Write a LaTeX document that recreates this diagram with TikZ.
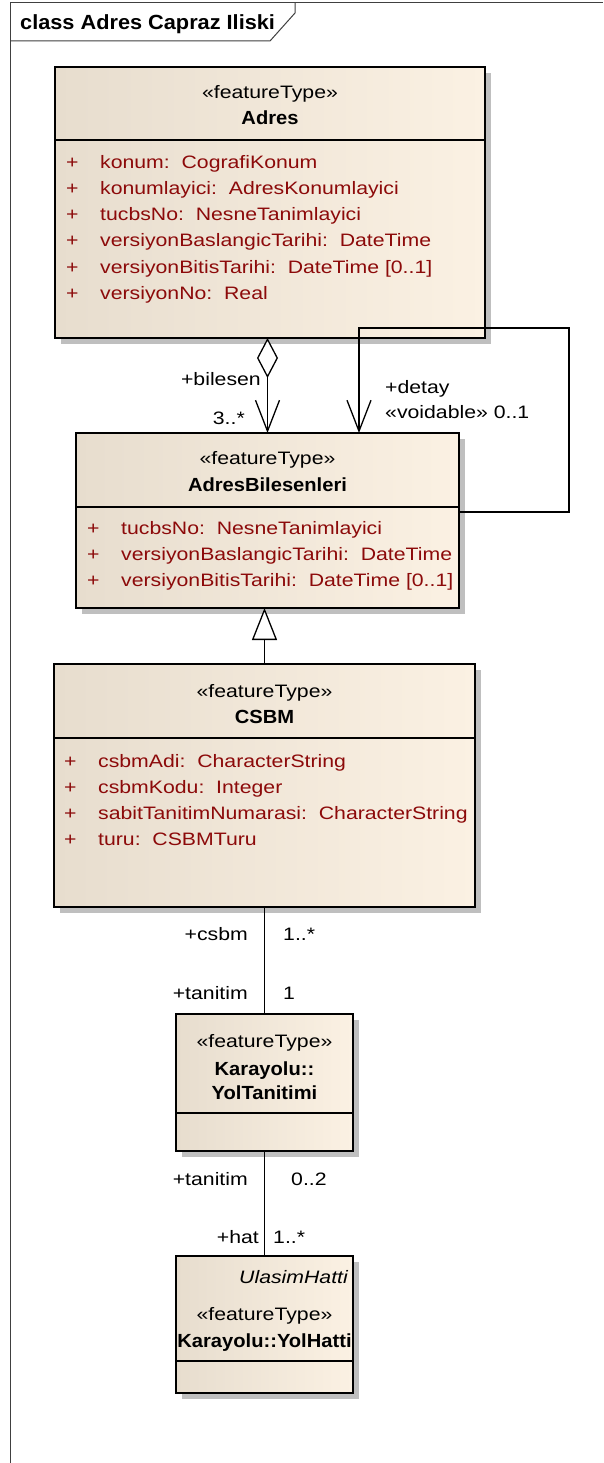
\documentclass[tikz,border=0pt]{standalone}
\usepackage{fontspec}
\setmainfont{Liberation Sans}
\newfontfamily\widefont{Liberation Sans}[FakeStretch=1.18]
\newfontfamily\namefont{Liberation Sans}[FakeStretch=1.06]
\usetikzlibrary{arrows.meta, shadows}
\definecolor{boxleft}{RGB}{231,221,206}
\definecolor{boxright}{RGB}{251,241,227}
\definecolor{attrred}{RGB}{140,10,10}
\newcommand{\plusmark}{\makebox[34pt][l]{+}}

\begin{document}
\begin{tikzpicture}[x=1pt, y=-1pt,
	classbox/.style={rectangle, draw=black, line width=1.4pt, left color=boxleft, right color=boxright, inner sep=0pt, outer sep=0pt, anchor=north west, drop shadow={shadow xshift=6pt, shadow yshift=-6pt, fill=black!25, opacity=1}},
	stereo/.style={font=\widefont\fontsize{18}{22}\selectfont, inner sep=0pt, anchor=base},
	classname/.style={font=\namefont\bfseries\fontsize{19}{23}\selectfont, inner sep=0pt, anchor=base},
	attr/.style={font=\widefont\fontsize{18}{26}\selectfont, text=attrred, inner sep=0pt, anchor=base west},
	role/.style={font=\widefont\fontsize{18}{22}\selectfont, inner sep=0pt},
	sep/.style={line width=1.4pt},
	conn/.style={line width=1.3pt},
	frame/.style={line width=1pt, draw=black!75}]
	\path[fill=white, use as bounding box] (0,0) rectangle (603,1463);
	% frame
	\draw[frame] (10,1463) -- (10,3) -- (603,3);
	\draw[frame] (10,41) -- (270,41) -- (295,13) -- (295,3);
	\node[font=\namefont\bfseries\fontsize{20.5}{24}\selectfont, inner sep=0pt, anchor=base west] (title) at (20,30) {class Adres Capraz Iliski};
	% Adres
	\node[classbox, minimum width=430pt, minimum height=271pt] (adres) at (55,67) {};
	\draw[sep] (adres.west |- 0,140) -- (adres.east |- 0,140);
	\node[stereo] (adresst) at (270,99) {«featureType»};
	\node[classname] (adresnm) at (270,125) {Adres};
	\node[attr] (adresa1) at (66,169) {\plusmark konum:~~CografiKonum};
	\node[attr] (adresa2) at (66,195) {\plusmark konumlayici:~~AdresKonumlayici};
	\node[attr] (adresa3) at (66,221) {\plusmark tucbsNo:~~NesneTanimlayici};
	\node[attr] (adresa4) at (66,247) {\plusmark versiyonBaslangicTarihi:~~DateTime};
	\node[attr] (adresa5) at (66,273) {\plusmark versiyonBitisTarihi:~~DateTime [0..1]};
	\node[attr] (adresa6) at (66,299) {\plusmark versiyonNo:~~Real};
	% AdresBilesenleri
	\node[classbox, minimum width=383pt, minimum height=175pt] (bilesen) at (76,433) {};
	\draw[sep] (bilesen.west |- 0,507) -- (bilesen.east |- 0,507);
	\node[stereo] (bilesenst) at (267.5,464) {«featureType»};
	\node[classname] (bilesennm) at (267.5,491) {AdresBilesenleri};
	\node[attr] (bilesena1) at (87,534) {\plusmark tucbsNo:~~NesneTanimlayici};
	\node[attr] (bilesena2) at (87,560) {\plusmark versiyonBaslangicTarihi:~~DateTime};
	\node[attr] (bilesena3) at (87,586) {\plusmark versiyonBitisTarihi:~~DateTime [0..1]};
	% CSBM
	\node[classbox, minimum width=421pt, minimum height=243pt] (csbm) at (54,664) {};
	\draw[sep] (csbm.west |- 0,738) -- (csbm.east |- 0,738);
	\node[stereo] (csbmst) at (264.5,697) {«featureType»};
	\node[classname] (csbmnm) at (264.5,723) {CSBM};
	\node[attr] (csbma1) at (64,767) {\plusmark csbmAdi:~~CharacterString};
	\node[attr] (csbma2) at (64,793) {\plusmark csbmKodu:~~Integer};
	\node[attr] (csbma3) at (64,819) {\plusmark sabitTanitimNumarasi:~~CharacterString};
	\node[attr] (csbma4) at (64,845) {\plusmark turu:~~CSBMTuru};
	% Karayolu::YolTanitimi
	\node[classbox, minimum width=177pt, minimum height=137pt] (yoltan) at (176,1014) {};
	\draw[sep] (yoltan.west |- 0,1113) -- (yoltan.east |- 0,1113);
	\node[stereo] (yoltanst) at (264.5,1047) {«featureType»};
	\node[classname] (yoltannm1) at (264.5,1075) {Karayolu::};
	\node[classname] (yoltannm2) at (264.5,1099) {YolTanitimi};
	% Karayolu::YolHatti
	\node[classbox, minimum width=177pt, minimum height=137pt] (yolhat) at (176,1256) {};
	\draw[sep] (yolhat.west |- 0,1361) -- (yolhat.east |- 0,1361);
	\node[stereo, anchor=base east, font=\widefont\itshape\fontsize{18}{22}\selectfont] (yolhatpar) at (348,1283) {UlasimHatti};
	\node[stereo] (yolhatst) at (264.5,1320) {«featureType»};
	\node[classname] (yolhatnm) at (264.5,1347) {Karayolu::YolHatti};
	% connectors
	\draw[conn, {Diamond[fill=white, length=40pt, width=21pt]}-{Straight Barb[length=31pt, width=24pt]}] (bilesen.north |- adres.south) -- (bilesen.north);
	\coordinate (detaytop) at (569,328);
	\draw[conn, -{Straight Barb[length=31pt, width=24pt]}] (bilesen.east |- 0,512) -| (detaytop) -| ([xshift=91.5pt]bilesen.north);
	\draw[conn, -{Triangle[fill=white, length=32pt, width=25pt]}] (csbm.north) -- (csbm.north |- bilesen.south);
	\draw[conn] (csbm.south) -- (yoltan.north);
	\draw[conn] (yoltan.south) -- (yolhat.north);
	% role names and multiplicities
	\node[role, anchor=base east] (bilesenrole) at (261,385) {+bilesen};
	\node[role, anchor=base east] (bilesenmult) at (245,424) {3..*};
	\node[role, anchor=base west] (detayrole) at (385,393) {+detay};
	\node[role, anchor=base west] (detaymult) at (385,418) {«voidable» 0..1};
	\node[role, anchor=base east] (csbmrole) at (248,940) {+csbm};
	\node[role, anchor=base west] (csbmmult) at (283,940) {1..*};
	\node[role, anchor=base east] (tanitimrole) at (248,999) {+tanitim};
	\node[role, anchor=base west] (tanitimmult) at (283,999) {1};
	\node[role, anchor=base east] (tanitimrole2) at (248,1185) {+tanitim};
	\node[role, anchor=base west] (tanitimmult2) at (291,1185) {0..2};
	\node[role, anchor=base east] (hatrole) at (259,1243) {+hat};
	\node[role, anchor=base west] (hatmult) at (273,1243) {1..*};
\end{tikzpicture}
\end{document}
